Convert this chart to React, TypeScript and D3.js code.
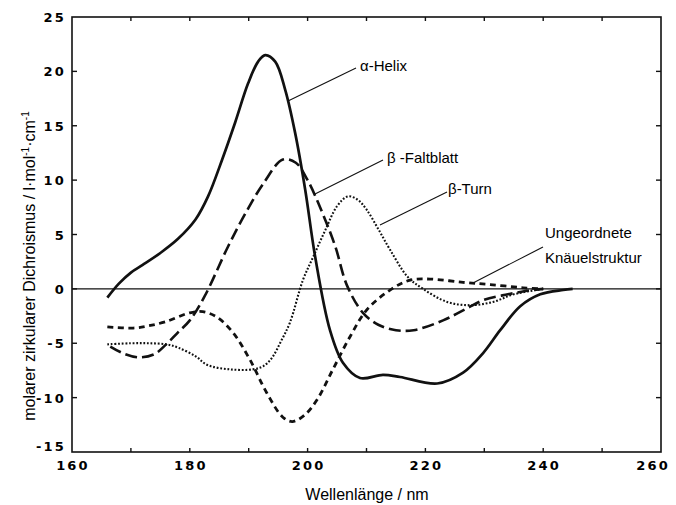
import React from "react";
import * as d3 from "d3";

const helixNm = [166, 168, 170, 172, 175, 178, 181, 183.1, 185.5, 187.7, 189.9, 191.6, 192.8, 194.5, 196.2, 197.9, 199.6, 201.3, 203.8, 206, 208.9, 212.8, 215.7, 222, 226.4, 229.8, 232.7, 236.1, 239.5, 243.4, 245];
const helixVal = [-0.8, 0.5, 1.5, 2.2, 3.3, 4.6, 6.4, 8.5, 11.9, 15.3, 18.9, 20.9, 21.5, 20.9, 18.3, 14.3, 9.1, 2.9, -3.8, -6.8, -8.2, -7.9, -8.1, -8.7, -7.7, -5.9, -3.8, -1.6, -0.5, -0.1, 0];

const sheetNm = [166.5, 169, 171.5, 174, 176, 178, 180, 182.5, 186.5, 189.5, 192.5, 195.8, 198, 200, 202.5, 204.7, 206.7, 209.4, 212, 215, 218, 223, 227, 230, 234, 237, 240];
const sheetVal = [-5.3, -6.0, -6.3, -6.0, -5.1, -4.0, -2.9, -0.7, 3.9, 7.0, 9.7, 11.9, 11.6, 10.0, 7.0, 3.9, 0.3, -2.2, -3.3, -3.8, -3.8, -2.9, -1.8, -1.0, -0.5, -0.2, 0];

const turnNm = [166, 170, 173, 176, 178, 181, 183, 186.8, 190.7, 192.5, 194, 195.5, 197, 199.2, 201, 203, 205, 206.8, 208.5, 210, 212, 214, 217, 219.6, 223.7, 227.6, 231.5, 235, 240];
const turnVal = [-5.1, -5.0, -5.0, -5.1, -5.4, -6.2, -7.0, -7.4, -7.4, -7.1, -6.3, -4.8, -3.1, 0.8, 3.0, 5.4, 7.6, 8.5, 8.2, 7.3, 5.5, 3.6, 1.1, 0.0, -1.2, -1.5, -1.2, -0.5, 0];

const coilNm = [166, 170.4, 173, 176, 180, 182.2, 184.6, 187.3, 190.2, 193.1, 195.8, 197.4, 199.5, 201.6, 204.3, 207.2, 210.1, 214.3, 217.4, 220.8, 226.4, 231, 236.6, 240];
const coilVal = [-3.5, -3.6, -3.4, -3.0, -2.2, -2.1, -2.6, -4.0, -6.5, -9.6, -11.8, -12.2, -11.6, -10.2, -7.4, -4.4, -1.9, 0.0, 0.8, 0.9, 0.6, 0.4, 0.1, 0];

const xTickLabels = [160, 180, 200, 220, 240, 260];
const yTickLabels = [25, 20, 15, 10, 5, 0, -5, -10, -15];

const W = 676;
const H = 505;
const L = 72, R = 661, T = 17, B = 452;

export default function App() {
  const x = d3.scaleLinear().domain([160, 260]).range([L, R]);
  const y = d3.scaleLinear().domain([-15, 25]).range([B, T]);
  const line = (nm: number[], v: number[]) =>
    d3.line<number>()
      .x((_, i) => x(nm[i]))
      .y((d) => y(d))
      .curve(d3.curveCatmullRom.alpha(0.5))(v) || "";

  const xMinor = d3.range(170, 260, 10);
  const yMinor = d3.range(-10, 25, 5);
  const tickFont = { fontFamily: "DejaVu Sans", fontWeight: 700, fontSize: 13, letterSpacing: 2.2 } as const;
  const labFont = { fontFamily: "Liberation Sans, Arial", fontSize: 15 } as const;

  return (
    <svg width={W} height={H} style={{ position: "absolute", left: 0, top: 0, background: "#fff" }}>
      <rect x={0} y={0} width={W} height={H} fill="#fff" />
      {/* zero line */}
      <line x1={L} x2={R} y1={y(0)} y2={y(0)} stroke="#111" strokeWidth={1.3} />
      {/* curves */}
      <path d={line(turnNm, turnVal)} fill="none" stroke="#111" strokeWidth={2.1} strokeDasharray="1.8 1.8" />
      <path d={line(coilNm, coilVal)} fill="none" stroke="#111" strokeWidth={2.8} strokeDasharray="6 4.5" />
      <path d={line(sheetNm, sheetVal)} fill="none" stroke="#111" strokeWidth={2.6} strokeDasharray="12 5" />
      <path d={line(helixNm, helixVal)} fill="none" stroke="#111" strokeWidth={2.7} />
      {/* frame */}
      <rect x={L} y={T} width={R - L} height={B - T} fill="none" stroke="#111" strokeWidth={1.6} />
      {xMinor.map((t) => (
        <g key={"xt" + t}>
          <line x1={x(t)} x2={x(t)} y1={B} y2={B - 4} stroke="#111" strokeWidth={1.4} />
          <line x1={x(t)} x2={x(t)} y1={T} y2={T + 4} stroke="#111" strokeWidth={1.4} />
        </g>
      ))}
      {yMinor.map((t) => (
        <g key={"yt" + t}>
          <line x1={L} x2={L + 5} y1={y(t)} y2={y(t)} stroke="#111" strokeWidth={1.4} />
          <line x1={R} x2={R - 5} y1={y(t)} y2={y(t)} stroke="#111" strokeWidth={1.4} />
        </g>
      ))}
      {/* tick labels */}
      {yTickLabels.map((t) => (
        <text key={"yl" + t} x={L - 6} y={t === -15 ? y(t) - 1 : y(t) + 5} textAnchor="end" {...tickFont}>
          {t < 0 ? "-" + Math.abs(t) : String(t)}
        </text>
      ))}
      {xTickLabels.map((t, i) => (
        <text
          key={"xl" + t}
          x={i === xTickLabels.length - 1 ? 670 : x(t) + 1}
          y={B + 18}
          textAnchor={i === xTickLabels.length - 1 ? "end" : "middle"}
          {...tickFont}
        >
          {t}
        </text>
      ))}
      {/* axis titles */}
      <text x={367} y={500} textAnchor="middle" {...labFont} fontSize={16}>Wellenlänge / nm</text>
      <text transform={`translate(35,266) rotate(-90)`} textAnchor="middle" {...labFont} fontSize={16}>
        molarer zirkularer Dichroismus / l·mol<tspan dy={-6} fontSize={10}>-1</tspan><tspan dy={6}>·cm</tspan><tspan dy={-6} fontSize={10}>-1</tspan>
      </text>
      {/* annotations */}
      <line x1={288} y1={101} x2={356} y2={68} stroke="#111" strokeWidth={1.1} />
      <text x={360} y={71} {...labFont}>α-Helix</text>
      <line x1={315} y1={194} x2={383} y2={160} stroke="#111" strokeWidth={1.1} />
      <text x={387} y={163} {...labFont}>β -Faltblatt</text>
      <line x1={380} y1={225} x2={447} y2={192} stroke="#111" strokeWidth={1.1} />
      <text x={448} y={194} {...labFont}>β-Turn</text>
      <line x1={473} y1={283} x2={543} y2={247} stroke="#111" strokeWidth={1.1} />
      <text x={545} y={238} {...labFont}>Ungeordnete</text>
      <text x={545} y={263} {...labFont}>Knäuelstruktur</text>
    </svg>
  );
}
